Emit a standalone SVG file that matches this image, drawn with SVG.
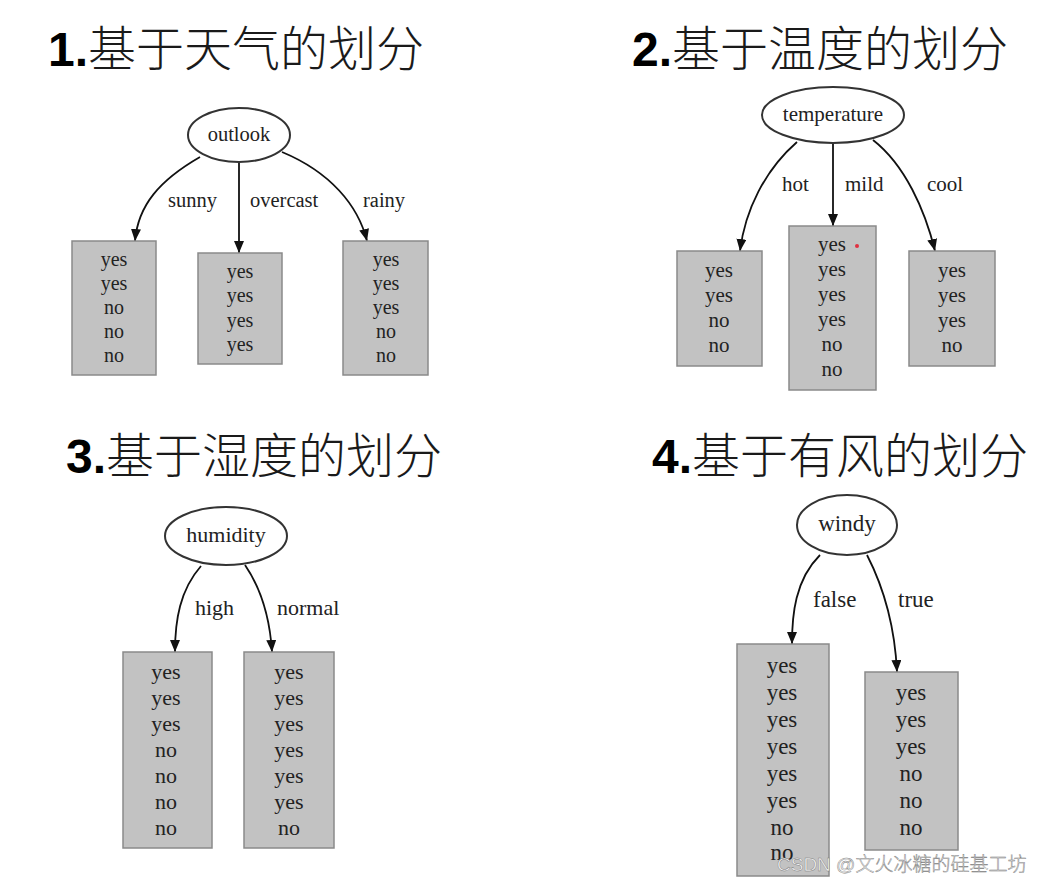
<svg xmlns="http://www.w3.org/2000/svg" width="1043" height="885" viewBox="0 0 1043 885">
<defs>
<marker id="ah" markerUnits="userSpaceOnUse" markerWidth="12" markerHeight="14" refX="12" refY="5" orient="auto">
<path d="M0,0 L12,5 L0,10 Z" fill="#111"/>
</marker>
<style>
.title{font-family:"Noto Sans CJK SC","Liberation Sans",sans-serif;font-size:48px;font-weight:300;fill:#1a1a1a}
.num{font-family:"Liberation Sans",Arial,sans-serif;font-weight:bold;fill:#000}
.ell{fill:#fff;stroke:#333;stroke-width:2}
.box{fill:#c2c2c2;stroke:#8a8a8a;stroke-width:1.5}
.t{font-family:"Liberation Serif","Times New Roman",serif;fill:#222;text-anchor:middle}
.lbl{font-family:"Liberation Serif","Times New Roman",serif;fill:#222}
.edge{fill:none;stroke:#111;stroke-width:1.8;marker-end:url(#ah)}
.wm{font-family:"Liberation Sans","Noto Sans CJK SC",sans-serif;font-size:19px;font-weight:300;fill:#f6f6f6;stroke:#7a7a7a;stroke-width:0.45}
</style>
</defs>
<rect width="1043" height="885" fill="#fff"/>

<g id="titles">
<text class="title" x="48" y="66"><tspan class="num">1.</tspan>基于天气的划分</text>
<text class="title" x="632" y="66"><tspan class="num">2.</tspan>基于温度的划分</text>
<text class="title" x="66" y="473"><tspan class="num">3.</tspan>基于湿度的划分</text>
<text class="title" x="652" y="473"><tspan class="num">4.</tspan>基于有风的划分</text>
</g>

<g id="connectors">
<path class="edge" d="M200,157 C160,180 138,205 135,241"/>
<path class="edge" d="M239,162 L239,253"/>
<path class="edge" d="M282,152 C330,172 358,205 367,241"/>
<path class="edge" d="M797,142 C765,170 745,210 740,251"/>
<path class="edge" d="M833,143 L833,226"/>
<path class="edge" d="M873,140 C905,165 925,210 935,251"/>
<path class="edge" d="M201,566 C180,590 175,620 175,652"/>
<path class="edge" d="M245,565 C262,590 270,620 272,652"/>
<path class="edge" d="M820,555 C795,580 792,615 792,644"/>
<path class="edge" d="M867,555 C885,590 895,630 897,672"/>
</g>

<g id="edge-labels">
<text class="lbl" x="168" y="207" font-size="20.5">sunny</text>
<text class="lbl" x="250" y="207" font-size="20.5">overcast</text>
<text class="lbl" x="363" y="207" font-size="20.5">rainy</text>
<text class="lbl" x="782" y="191" font-size="21">hot</text>
<text class="lbl" x="845" y="191" font-size="21">mild</text>
<text class="lbl" x="927" y="191" font-size="21">cool</text>
<text class="lbl" x="195" y="615" font-size="22">high</text>
<text class="lbl" x="277" y="615" font-size="22">normal</text>
<text class="lbl" x="813" y="607" font-size="23">false</text>
<text class="lbl" x="898" y="607" font-size="23">true</text>
</g>

<g id="node-outlook">
<ellipse class="ell" cx="239" cy="135" rx="51" ry="27"/>
<text class="t" x="239" y="141" font-size="20.5">outlook</text>
</g>
<g id="node-sunny" font-size="20">
<rect class="box" x="72" y="241" width="84" height="134"/>
<text class="t" x="114" y="266">yes</text>
<text class="t" x="114" y="290">yes</text>
<text class="t" x="114" y="314">no</text>
<text class="t" x="114" y="338">no</text>
<text class="t" x="114" y="362">no</text>
</g>
<g id="node-overcast" font-size="20">
<rect class="box" x="198" y="253" width="84" height="111"/>
<text class="t" x="240" y="278">yes</text>
<text class="t" x="240" y="302">yes</text>
<text class="t" x="240" y="327">yes</text>
<text class="t" x="240" y="351">yes</text>
</g>
<g id="node-rainy" font-size="20">
<rect class="box" x="343" y="241" width="85" height="134"/>
<text class="t" x="386" y="266">yes</text>
<text class="t" x="386" y="290">yes</text>
<text class="t" x="386" y="314">yes</text>
<text class="t" x="386" y="338">no</text>
<text class="t" x="386" y="362">no</text>
</g>

<g id="node-temperature">
<ellipse class="ell" cx="833" cy="115" rx="71" ry="28"/>
<text class="t" x="833" y="121" font-size="21">temperature</text>
</g>
<g id="node-hot" font-size="21">
<rect class="box" x="677" y="251" width="85" height="115"/>
<text class="t" x="719" y="277">yes</text>
<text class="t" x="719" y="302">yes</text>
<text class="t" x="719" y="327">no</text>
<text class="t" x="719" y="352">no</text>
</g>
<g id="node-mild" font-size="21">
<rect class="box" x="789" y="226" width="87" height="164"/>
<text class="t" x="832" y="251">yes</text>
<text class="t" x="832" y="276">yes</text>
<text class="t" x="832" y="301">yes</text>
<text class="t" x="832" y="326">yes</text>
<text class="t" x="832" y="351">no</text>
<text class="t" x="832" y="376">no</text>
<circle cx="857" cy="246" r="2" fill="#e03040"/>
</g>
<g id="node-cool" font-size="21">
<rect class="box" x="909" y="251" width="86" height="115"/>
<text class="t" x="952" y="277">yes</text>
<text class="t" x="952" y="302">yes</text>
<text class="t" x="952" y="327">yes</text>
<text class="t" x="952" y="352">no</text>
</g>

<g id="node-humidity">
<ellipse class="ell" cx="226" cy="536" rx="61" ry="29"/>
<text class="t" x="226" y="542" font-size="22">humidity</text>
</g>
<g id="node-high" font-size="22">
<rect class="box" x="123" y="652" width="89" height="196"/>
<text class="t" x="166" y="679">yes</text>
<text class="t" x="166" y="705">yes</text>
<text class="t" x="166" y="731">yes</text>
<text class="t" x="166" y="757">no</text>
<text class="t" x="166" y="783">no</text>
<text class="t" x="166" y="809">no</text>
<text class="t" x="166" y="835">no</text>
</g>
<g id="node-normal" font-size="22">
<rect class="box" x="244" y="652" width="90" height="196"/>
<text class="t" x="289" y="679">yes</text>
<text class="t" x="289" y="705">yes</text>
<text class="t" x="289" y="731">yes</text>
<text class="t" x="289" y="757">yes</text>
<text class="t" x="289" y="783">yes</text>
<text class="t" x="289" y="809">yes</text>
<text class="t" x="289" y="835">no</text>
</g>

<g id="node-windy">
<ellipse class="ell" cx="847" cy="525" rx="50" ry="30"/>
<text class="t" x="847" y="531" font-size="23">windy</text>
</g>
<g id="node-false" font-size="23">
<rect class="box" x="737" y="644" width="92" height="232"/>
<text class="t" x="782" y="673">yes</text>
<text class="t" x="782" y="700">yes</text>
<text class="t" x="782" y="727">yes</text>
<text class="t" x="782" y="754">yes</text>
<text class="t" x="782" y="781">yes</text>
<text class="t" x="782" y="808">yes</text>
<text class="t" x="782" y="835">no</text>
<text class="t" x="782" y="860">no</text>
</g>
<g id="node-true" font-size="23">
<rect class="box" x="865" y="672" width="93" height="178"/>
<text class="t" x="911" y="700">yes</text>
<text class="t" x="911" y="727">yes</text>
<text class="t" x="911" y="754">yes</text>
<text class="t" x="911" y="781">no</text>
<text class="t" x="911" y="808">no</text>
<text class="t" x="911" y="835">no</text>
</g>

<text class="wm" x="777" y="871">CSDN @文火冰糖的硅基工坊</text>
</svg>
